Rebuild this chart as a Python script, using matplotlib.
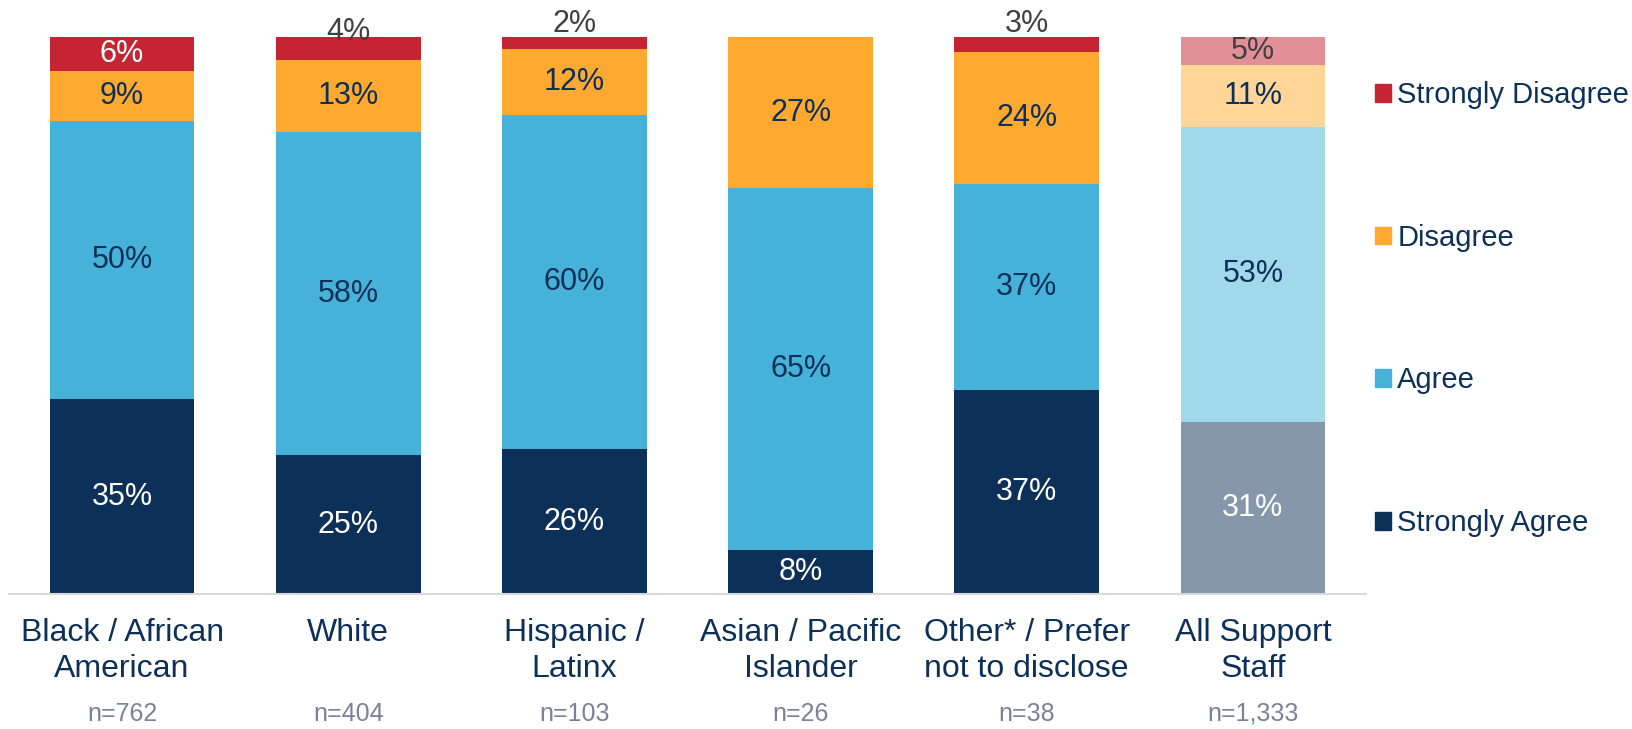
import matplotlib
matplotlib.use('agg')
import matplotlib.pyplot as plt
import matplotlib.transforms as mtransforms
from matplotlib.patches import Patch
import numpy as np

plt.rcParams['font.family'] = ['Liberation Sans', 'DejaVu Sans']

categories = ['Black / African\nAmerican', 'White', 'Hispanic /\nLatinx',
              'Asian / Pacific\nIslander', 'Other* / Prefer\nnot to disclose',
              'All Support\nStaff']
n_labels = ['n=762', 'n=404', 'n=103', 'n=26', 'n=38', 'n=1,333']

series = ['Strongly Agree', 'Agree', 'Disagree', 'Strongly Disagree']
strongly_agree = [35, 25, 26, 8, 36.7, 31]
agree = [50, 58, 60, 65, 36.9, 53]
disagree = [9, 13, 12, 27, 23.8, 11]
strongly_disagree = [6, 4, 2, 0, 2.6, 5]

colors = ['#0D3059', '#47B2D9', '#FFA931', '#C62433']
light_colors = ['#8697AC', '#A2D8EB', '#FFD598', '#E28F97']
navy = '#0D3059'
gray = '#404040'


def main():
    fig = plt.figure(figsize=(16.33, 7.29), dpi=100)
    ax = fig.add_axes([0.0055, 0.185, 0.831, 0.7636])

    x = np.arange(len(categories))
    width = 0.64
    bottoms = np.zeros(len(categories))
    data = [strongly_agree, agree, disagree, strongly_disagree]

    for s, vals in enumerate(data):
        vals = np.array(vals, dtype=float)
        cols = [colors[s]] * (len(categories) - 1) + [light_colors[s]]
        ax.bar(x, vals, width, bottom=bottoms, color=cols, linewidth=0)
        for i, v in enumerate(vals):
            if v <= 0:
                continue
            txt = '%d%%' % round(v)
            mid = bottoms[i] + v / 2
            if s == 0:
                c = 'white'
            elif s in (1, 2):
                c = navy
            else:
                if i == len(categories) - 1:
                    c = gray
                elif v >= 5:
                    c = 'white'
                else:
                    # small segments get their label above the bar
                    c = gray
                    mid = 101.0 if round(v) == 4 else 102.5
            ax.text(x[i], mid, txt, ha='center', va='center', fontsize=22, color=c)
        bottoms += vals

    ax.set_xlim(-0.5, len(categories) - 0.5)
    ax.set_ylim(0, 100)
    ax.set_yticks([])
    for side in ['top', 'right', 'left']:
        ax.spines[side].set_visible(False)
    ax.spines['bottom'].set_color('#D9D9D9')
    ax.spines['bottom'].set_linewidth(1.5)
    ax.set_xticks(x)
    ax.set_xticklabels(categories, fontsize=23, color=navy, linespacing=1.25)
    ax.tick_params(axis='x', length=0, pad=17.5)

    trans = mtransforms.blended_transform_factory(ax.transData, fig.transFigure)
    for i, lab in enumerate(n_labels):
        ax.text(x[i], 0.021, lab, transform=trans, ha='center', va='center',
                fontsize=18, color='#7A8296')

    handles = [Patch(color=colors[s], label=series[s]) for s in range(len(series))][::-1]
    fig.legend(handles=handles, loc='center left', bbox_to_anchor=(0.8262, 0.5760),
               frameon=False, fontsize=21, labelcolor=navy, handlelength=0.55,
               handleheight=0.55, handletextpad=0.2, labelspacing=3.93)

    fig.savefig('out.png', dpi=100)


if __name__ == "__main__":
    main()
